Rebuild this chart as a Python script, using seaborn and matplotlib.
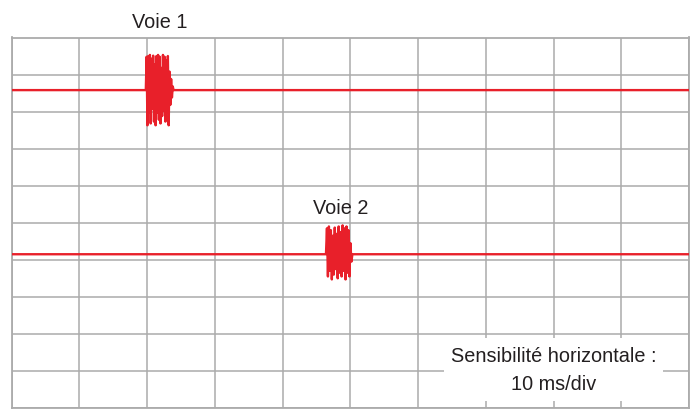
import numpy as np
import pandas as pd
import matplotlib
matplotlib.use("Agg")
import matplotlib.pyplot as plt
import seaborn as sns
from matplotlib import font_manager

# ---- data (time in ms, amplitude in divisions) ----
time_range = [0, 100]           # 10 ms/div, 10 divisions
grid_x = list(range(0, 101, 10))
grid_y = list(range(0, 11))

ch1_level = 8.58
ch2_level = 4.15

burst1_start, burst1_end = 19.8, 23.9
burst1_samples = [0.0, 0.9, -0.95, 0.92, -0.6, 0.95, -0.9, 0.85, -0.5, 0.93,
                  -0.85, 0.7, -0.95, 0.92, -0.6, 0.95, -0.8, 0.9, -0.9, 0.6,
                  -0.7, 0.95, -0.55, 0.9, -0.85, 0.8, -0.6, 0.92, -0.95, 0.5,
                  -0.4, 0.3, -0.2, 0.1, 0.0]

burst2_start, burst2_end = 46.4, 50.3
burst2_samples = [0.0, 0.7, -0.6, 0.75, -0.45, 0.65, -0.68, 0.5, -0.55, 0.72,
                  -0.4, 0.55, -0.65, 0.75, -0.5, 0.6, -0.6, 0.78, -0.45, 0.7,
                  -0.68, 0.75, -0.5, 0.65, -0.6, 0.3, -0.2, 0.0]

labels = ["Voie 1", "Voie 2"]
caption_lines = ["Sensibilité horizontale :", "10 ms/div"]


def trace(level, start, end, samples, name):
    t_burst = np.linspace(start, end, len(samples))
    t = np.concatenate([[time_range[0]], t_burst, [time_range[1]]])
    v = np.concatenate([[0.0], samples, [0.0]]) + level
    return pd.DataFrame({"t": t, "v": v, "voie": name})


df = pd.concat([
    trace(ch1_level, burst1_start, burst1_end, burst1_samples, labels[0]),
    trace(ch2_level, burst2_start, burst2_end, burst2_samples, labels[1]),
], ignore_index=True)

# ---- style ----
sns.set_theme(style="white")
avail = {f.name for f in font_manager.fontManager.ttflist}
fam = "Liberation Sans Narrow" if "Liberation Sans Narrow" in avail else "Liberation Sans"
plt.rcParams["font.family"] = [fam, "DejaVu Sans"]
fs = 16 if fam == "Liberation Sans Narrow" else 14.3

grid_col = "#ababab"
red = "#e8202a"
txt_col = "#231f20"

fig = plt.figure(figsize=(6.9, 4.09), dpi=100)
ax = fig.add_axes([11.7 / 690, 1 - 408 / 409, (689 - 11.7) / 690, (408 - 37.5) / 409])

ax.set_xlim(time_range)
ybottom = 10 - (408 - 37.5) / 37.72
ax.set_ylim(ybottom, 10)
ax.set_xticks(grid_x)
ax.set_yticks(grid_y)
ax.grid(True, color=grid_col, linewidth=1.1)
ax.tick_params(left=False, bottom=False, labelleft=False, labelbottom=False)
for s in ax.spines.values():
    s.set_color(grid_col)
    s.set_linewidth(1.3)
ax.set_axisbelow(True)

sns.lineplot(data=df, x="t", y="v", units="voie", estimator=None, sort=False,
             color=red, linewidth=1.7, ax=ax, legend=False, zorder=3)
ax.set_xlabel("")
ax.set_ylabel("")

# labels
ax.text(21.9, 10.25, labels[0], ha="center", va="baseline", fontsize=fs,
        color=txt_col, clip_on=False)
ax.text(48.5, 5.24, labels[1], ha="center", va="baseline", fontsize=fs,
        color=txt_col, zorder=4)

# caption box
ax.add_patch(plt.Rectangle((63.9, ybottom + 0.02), 96.2 - 63.9, 1.9 - ybottom - 0.02,
                           facecolor="white", edgecolor="none", zorder=2.5))
ax.text(80.0, 1.23, caption_lines[0], ha="center", va="baseline",
        fontsize=fs, color=txt_col, zorder=4)
ax.text(80.0, 0.48, caption_lines[1], ha="center", va="baseline",
        fontsize=fs, color=txt_col, zorder=4)

fig.savefig("out.png", dpi=100, facecolor="white")
